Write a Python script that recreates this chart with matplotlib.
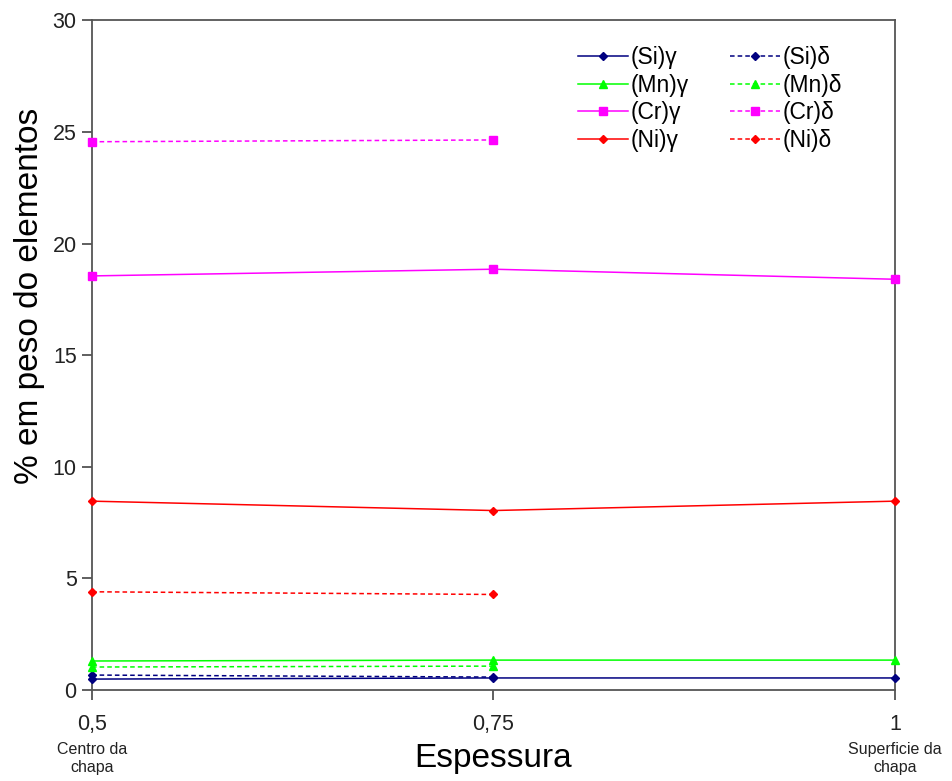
import matplotlib.pyplot as plt
import numpy as np

plt.rcParams['font.family'] = ['Liberation Sans', 'DejaVu Sans']

# Positions across the plate thickness
espessura = [0.5, 0.75, 1.0]
espessura_delta = [0.5, 0.75]

# Austenite (gamma) composition, wt %
si_gamma = [0.49, 0.54, 0.54]
mn_gamma = [1.30, 1.34, 1.34]
cr_gamma = [18.55, 18.85, 18.40]
ni_gamma = [8.46, 8.04, 8.46]

# Ferrite (delta) composition, wt %
si_delta = [0.67, 0.58]
mn_delta = [1.03, 1.07]
cr_delta = [24.56, 24.64]
ni_delta = [4.40, 4.28]

elementos = ['Si', 'Mn', 'Cr', 'Ni']
cores = ['#000080', '#00FF00', '#FF00FF', '#FF0000']
marcadores = ['D', '^', 's', 'D']
tam = [4.5, 6, 5.5, 4.5]

fig = plt.figure(figsize=(9.53, 7.81), dpi=100)
ax = fig.add_axes([0.0965, 0.1165, 0.8425, 0.8575])

handles = []
for el, g, c, m, s in zip(elementos, [si_gamma, mn_gamma, cr_gamma, ni_gamma], cores, marcadores, tam):
    h, = ax.plot(espessura, g, color=c, marker=m, markersize=s, lw=1.1,
                 label='(' + el + ')\u03b3', clip_on=False, zorder=3)
    handles.append(h)
for el, d, c, m, s in zip(elementos, [si_delta, mn_delta, cr_delta, ni_delta], cores, marcadores, tam):
    h, = ax.plot(espessura_delta, d, color=c, marker=m, markersize=s, lw=1.1,
                 ls=(0, (3, 2)), label='(' + el + ')\u03b4', clip_on=False, zorder=3)
    handles.append(h)

ax.set_xlim(0.5, 1.0)
ax.set_ylim(0, 30)
ax.set_xticks([0.5, 0.75, 1.0])
ax.set_xticklabels(['0,5', '0,75', '1'])
ax.set_yticks([0, 5, 10, 15, 20, 25, 30])
ax.tick_params(axis='both', direction='out', length=7, width=1.2, colors='#444444',
               labelsize=15.5, labelcolor='#222222')
ax.tick_params(axis='x', pad=10)
ax.tick_params(axis='y', pad=4)
for sp in ax.spines.values():
    sp.set_color('#555555')
    sp.set_linewidth(1.3)

ax.text(0.0, -0.078, 'Centro da\nchapa', transform=ax.transAxes, ha='center', va='top',
        fontsize=11.5, color='#222222', linespacing=1.25)
ax.text(1.0, -0.078, 'Superficie da\nchapa', transform=ax.transAxes, ha='center', va='top',
        fontsize=11.5, color='#222222', linespacing=1.25)

ax.set_xlabel('Espessura', fontsize=24, labelpad=6)
ax.set_ylabel('% em peso do elementos', fontsize=24)
ax.yaxis.set_label_coords(-0.058, 0.588)

ax.legend(handles=handles, ncol=2, loc='upper right', bbox_to_anchor=(0.96, 0.992),
          frameon=False, fontsize=16.5, handlelength=2.2, handletextpad=0.1,
          columnspacing=1.8, labelspacing=0.2)

fig.savefig('out.png', dpi=100)
